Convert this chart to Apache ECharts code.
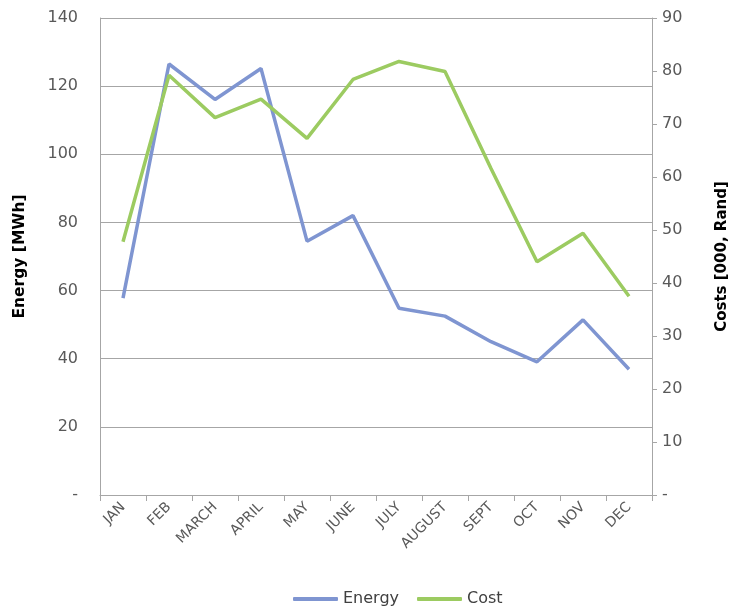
<!DOCTYPE html>
<html><head><meta charset="utf-8">
<script src="https://cdn.jsdelivr.net/npm/echarts@6/dist/echarts.min.js"></script>
<style>html,body{margin:0;padding:0;background:#fff}#c{width:734px;height:610px}</style>
</head><body><div id="c"></div>
<script>
const months = ['JAN','FEB','MARCH','APRIL','MAY','JUNE','JULY','AUGUST','SEPT','OCT','NOV','DEC'];
const energy = [57.8, 126.5, 116.1, 125.2, 74.5, 82.0, 54.8, 52.5, 45.0, 39.1, 51.4, 36.9];
const cost = [47.8, 79.2, 71.2, 74.7, 67.3, 78.4, 81.8, 79.9, 61.6, 44.0, 49.4, 37.5];
const FONT = '"DejaVu Sans", sans-serif';
const chart = echarts.init(document.getElementById('c'), null, {renderer:'canvas'});
chart.setOption({
  animation:false,
  textStyle:{fontFamily:FONT},
  grid:{left:100,right:82,top:18,bottom:115,containLabel:false,outerBoundsMode:'none'},
  legend:{
    top:586,left:288,itemWidth:45,itemHeight:4,itemGap:18,icon:'roundRect',
    textStyle:{fontFamily:FONT,fontSize:16,color:'#404040'},
    data:['Energy','Cost']
  },
  xAxis:{
    type:'category',data:months,boundaryGap:true,
    axisLine:{lineStyle:{color:'#A6A6A6',width:1}},
    axisTick:{show:true,alignWithLabel:false,length:6,lineStyle:{color:'#A6A6A6'}},
    axisLabel:{rotate:45,fontSize:14,color:'#595959',fontFamily:FONT,margin:10,interval:0}
  },
  yAxis:[{
    type:'value',min:0,max:140,interval:20,position:'left',
    name:'Energy [MWh]',nameLocation:'middle',nameGap:72,nameRotate:90,
    nameTextStyle:{fontWeight:'bold',fontSize:15.5,color:'#000',fontFamily:FONT},
    axisLine:{show:true,lineStyle:{color:'#A6A6A6'}},
    axisTick:{show:false},
    axisLabel:{fontSize:16,color:'#595959',margin:22,fontFamily:FONT,formatter:v=>v===0?'-':String(v)},
    splitLine:{show:true,lineStyle:{color:'#A6A6A6',width:1}}
  },{
    type:'value',min:0,max:90,interval:10,position:'right',
    name:'Costs [000, Rand]',nameLocation:'middle',nameGap:63,nameRotate:90,
    nameTextStyle:{fontWeight:'bold',fontSize:15,color:'#000',fontFamily:FONT},
    axisLine:{show:true,lineStyle:{color:'#A6A6A6'}},
    axisTick:{show:true,inside:false,length:5,lineStyle:{color:'#A6A6A6'}},
    axisLabel:{fontSize:16,color:'#595959',margin:10,fontFamily:FONT,formatter:v=>v===0?'-':String(v)},
    splitLine:{show:false}
  }],
  series:[{
    name:'Energy',type:'line',yAxisIndex:0,data:energy,showSymbol:false,symbol:'none',
    lineStyle:{color:'#7F95D1',width:3.5},itemStyle:{color:'#7F95D1'}
  },{
    name:'Cost',type:'line',yAxisIndex:1,data:cost,showSymbol:false,symbol:'none',
    lineStyle:{color:'#9CCB61',width:3.5},itemStyle:{color:'#9CCB61'}
  }]
});
</script></body></html>
